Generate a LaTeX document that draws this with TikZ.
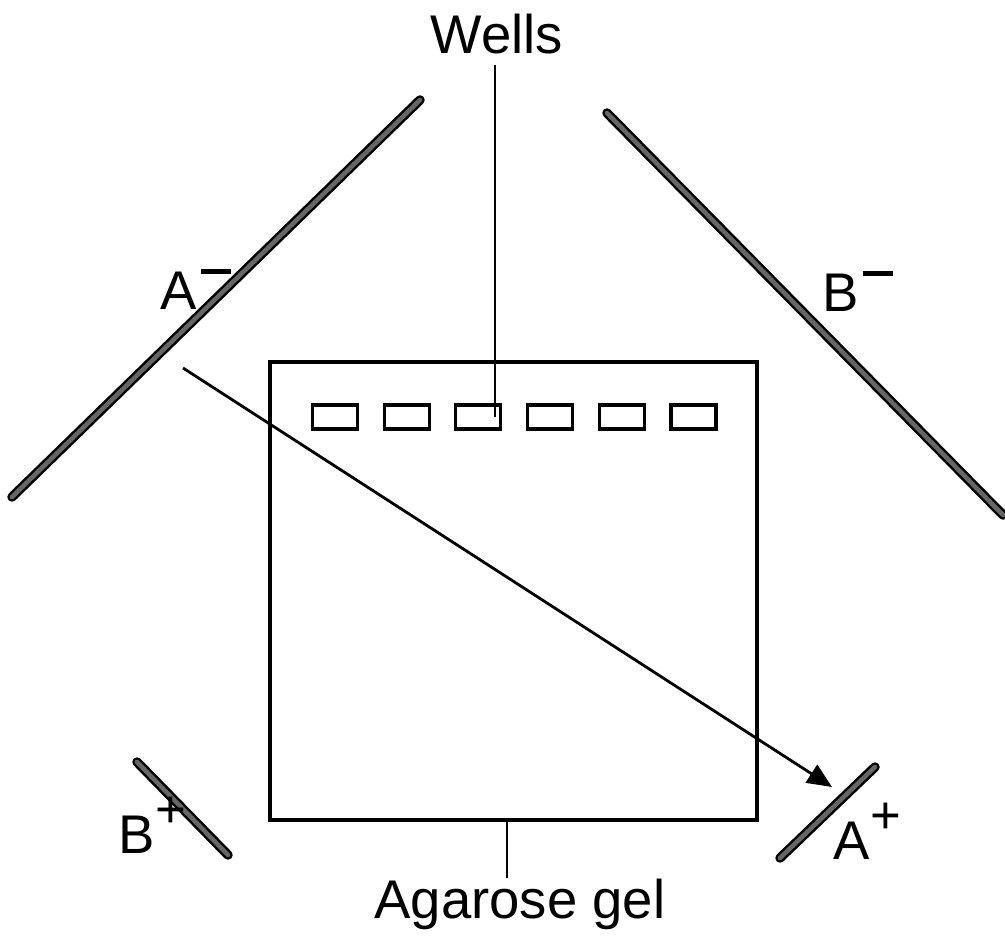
\documentclass[tikz,border=0pt]{standalone}
\usepackage{fontspec}
\setmainfont{Liberation Sans}
\usepackage{tikz}
\usetikzlibrary{arrows.meta, positioning, calc}

% charge marks, drawn long like the hand lettering
\newcommand{\chgminus}{\hspace{1pt}\raisebox{0.36cm}{\rule{0.30cm}{0.045cm}}}
\newcommand{\chgplus}{\raisebox{0.26cm}{\fontsize{15}{15}\selectfont +}}

\begin{document}
\begin{tikzpicture}[
    >={Triangle[length=7pt, width=6pt]},
    font=\fontsize{15.5}{18}\selectfont,
    electrode/.style={line width=0.7pt, draw=black, double=black!60,
                      double distance=1.3pt, line cap=round},
    gelbox/.style={draw, line width=1.2pt, minimum width=4.87cm,
                   minimum height=4.58cm, inner sep=0pt},
    well/.style={draw, line width=0.9pt, minimum width=0.45cm,
                 minimum height=0.24cm, inner sep=0pt},
    label/.style={inner sep=0pt},
    leader/.style={line width=0.8pt},
]

\useasboundingbox (0, 0) rectangle (10.05, 9.44);

% ============================================================
% GEL AND WELLS
% ============================================================
\node[gelbox] (gel) at (5.135, 3.53) {};

\foreach \i in {1,...,6} {
    \node[well] (w\i) at ({3.35 + 0.717*(\i-1)}, 5.27) {};
}

% ============================================================
% ELECTRODES
% ============================================================
\coordinate (aminusS) at (0.12, 4.47);
\coordinate (aminusE) at (4.20, 8.44);
\coordinate (bminusS) at (6.07, 8.31);
\coordinate (bminusE) at (10.03, 4.29);
\coordinate (bplusS)  at (1.37, 1.82);
\coordinate (bplusE)  at (2.28, 0.89);
\coordinate (aplusS)  at (7.80, 0.86);
\coordinate (aplusE)  at (8.75, 1.77);

\draw[electrode] (aminusS) -- (aminusE);
\draw[electrode] (bminusS) -- (bminusE);
\draw[electrode] (bplusS) -- (bplusE);
\draw[electrode] (aplusS) -- (aplusE);

\node[label, anchor=base west] (aminus) at (1.60, 6.34) {A\chgminus};
\node[label, anchor=base west] (bminus) at (8.22, 6.32) {B\chgminus};
\node[label, anchor=base west] (bplus)  at (1.18, 0.91) {B\chgplus};
\node[label, anchor=base west] (aplus)  at (8.33, 0.85) {A\chgplus};

% ============================================================
% FIELD DIRECTION (A- to A+)
% ============================================================
\coordinate (fieldS) at (1.83, 5.76);
\coordinate (fieldE) at (8.32, 1.57);
\draw[->, line width=0.8pt] (fieldS) -- (fieldE);

% ============================================================
% LABELS
% ============================================================
\node[label] (wells) at (4.97, 9.10) {Wells};
\draw[leader] (wells.south -| 4.95, 0) ++(0, -0.1) coordinate (wtop)
    -- (wtop |- w3.center);

\node[label] (agarose) at (5.20, 0.40) {Agarose gel};
\draw[leader] ($(gel.south)+(-0.065, 0)$) coordinate (gbot)
    -- (gbot |- agarose.north);

\end{tikzpicture}
\end{document}
